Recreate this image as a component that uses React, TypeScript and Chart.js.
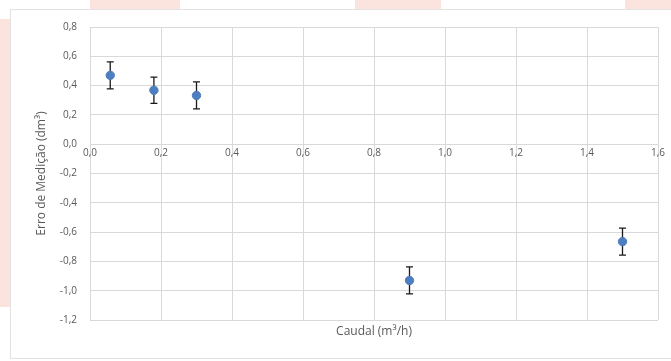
import React, { useEffect, useRef } from "react";
import { Chart, registerables } from "chart.js";

Chart.register(...registerables);

// Data
const caudal = [0.057, 0.18, 0.3, 0.9, 1.5];
const erro = [0.47, 0.368, 0.333, -0.93, -0.665];
const erroIncerteza = [0.092, 0.09, 0.092, 0.092, 0.092];
const xTitle = "Caudal (m³/h)";
const yTitle = "Erro de Medição (dm³)";

const fmt = (v: number) => {
  const s = Number(v).toFixed(1);
  return (s === "-0,0" || s === "-0.0" ? "0.0" : s).replace(".", ",");
};

const FONT = "'Open Sans', 'Noto Sans', sans-serif";
const TEXT = "#595959";
const GRID = "#d9d9d9";

const errorBarPlugin = {
  id: "errorBars",
  beforeDatasetsDraw(chart: any) {
    const { ctx, scales } = chart;
    const xs = scales.x;
    const ys = scales.y;
    ctx.save();
    ctx.strokeStyle = "#1a1a1a";
    ctx.lineWidth = 1.3;
    for (let i = 0; i < caudal.length; i++) {
      const px = xs.getPixelForValue(caudal[i]);
      const top = ys.getPixelForValue(erro[i] + erroIncerteza[i]);
      const bot = ys.getPixelForValue(erro[i] - erroIncerteza[i]);
      const cap = 3.5;
      ctx.beginPath();
      ctx.moveTo(px, top);
      ctx.lineTo(px, bot);
      ctx.moveTo(px - cap, top);
      ctx.lineTo(px + cap, top);
      ctx.moveTo(px - cap, bot);
      ctx.lineTo(px + cap, bot);
      ctx.stroke();
    }
    ctx.restore();
  },
  afterDraw(chart: any) {
    const { ctx, chartArea } = chart;
    ctx.save();
    ctx.fillStyle = TEXT;
    ctx.font = `12px ${FONT}`;
    ctx.textAlign = "center";
    ctx.textBaseline = "middle";
    ctx.fillText(xTitle, (chartArea.left + chartArea.right) / 2, chartArea.bottom + 12);
    ctx.restore();
  },
};

export default function App() {
  const ref = useRef<HTMLCanvasElement | null>(null);

  useEffect(() => {
    if (!ref.current) return;
    const chart = new Chart(ref.current, {
      type: "scatter",
      data: {
        datasets: [
          {
            data: caudal.map((x, i) => ({ x, y: erro[i] })),
            backgroundColor: "#4d7ebf",
            borderColor: "#4d7ebf",
            pointRadius: 4.2,
            pointHoverRadius: 4.2,
          },
        ],
      },
      options: {
        responsive: false,
        animation: false,
        events: [],
        layout: { padding: { left: 30, right: 13, top: 27, bottom: 41 } },
        plugins: {
          legend: { display: false },
          tooltip: { enabled: false },
          title: { display: false },
        },
        scales: {
          x: {
            type: "linear",
            position: { y: 0 } as any,
            min: 0,
            max: 1.6,
            ticks: {
              stepSize: 0.2,
              callback: (v: any) => fmt(v),
              color: TEXT,
              font: { family: FONT, size: 10 },
              padding: 3,
              maxRotation: 0,
            },
            grid: { color: GRID, drawTicks: false, lineWidth: 1 },
            border: { display: false },
          },
          y: {
            type: "linear",
            min: -1.2,
            max: 0.8,
            ticks: {
              stepSize: 0.2,
              callback: (v: any) => fmt(v),
              color: TEXT,
              font: { family: FONT, size: 10 },
              padding: 13,
            },
            grid: { color: GRID, drawTicks: false, lineWidth: 1 },
            border: { display: false },
            title: {
              display: true,
              text: yTitle,
              color: TEXT,
              font: { family: FONT, size: 12 },
              padding: { top: 4, bottom: 0 },
            },
            afterFit: (scale: any) => {
              scale.width = 60;
            },
          },
        },
      },
      plugins: [errorBarPlugin],
    });
    return () => chart.destroy();
  }, []);

  const pink = "#fbe4dd";
  const block = (l: number, t: number, w: number, h: number): React.CSSProperties => ({
    position: "absolute",
    left: l,
    top: t,
    width: w,
    height: h,
    background: pink,
  });

  return (
    <div style={{ position: "fixed", left: 0, top: 0, width: 671, height: 361, background: "#fff", overflow: "hidden" }}>
      <div style={block(90, 0, 90, 9)} />
      <div style={block(355, 0, 86, 9)} />
      <div style={block(625, 0, 46, 9)} />
      <div style={block(0, 19, 10, 288)} />
      <div
        style={{
          position: "absolute",
          left: 10,
          top: 9,
          width: 700,
          height: 350,
          border: "1px solid #e3e3e3",
          background: "#fff",
          boxSizing: "border-box",
        }}
      />
      <canvas ref={ref} width={671} height={361} style={{ position: "absolute", left: 0, top: 0, width: 671, height: 361 }} />
    </div>
  );
}
